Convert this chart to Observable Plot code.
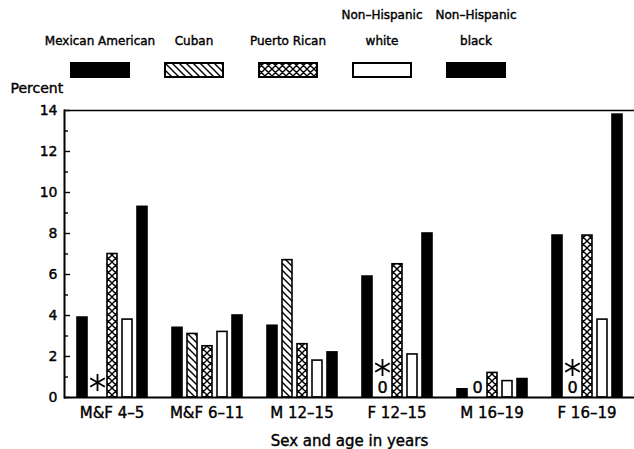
<!DOCTYPE html>
<html>
<head>
<meta charset="utf-8">
<script src="https://cdn.jsdelivr.net/npm/d3@7"></script>
<script src="https://cdn.jsdelivr.net/npm/@observablehq/plot@0.6"></script>
<style>
  body { margin: 0; background: #fff; font-family: "DejaVu Sans", sans-serif; color: #000; }
  #wrap { position: relative; width: 634px; height: 449px; overflow: hidden; }
  #legend { position: relative; width: 634px; height: 80px; }
  .lg-line { position: absolute; width: 130px; text-align: center; font-size: 12px; line-height: 16px; white-space: nowrap; -webkit-text-stroke: 0.4px black; }
  .lg-swatch { position: absolute; }
  #chart svg { display: block; }
  #chart svg text { stroke: black; stroke-width: 0.4px; }
</style>
</head>
<body>
<div id="wrap">
  <div id="legend"></div>
  <div id="chart"></div>
</div>
<script>
// ---- data ----
const groups = ["M&F 4–5", "M&F 6–11", "M 12–15", "F 12–15", "M 16–19", "F 16–19"];
const series = ["Mexican American", "Cuban", "Puerto Rican", "Non–Hispanic white", "Non–Hispanic black"];
const mexicanAmerican  = [3.9, 3.4, 3.5, 5.9, 0.4, 7.9];
const cuban            = [null, 3.1, 6.7, null, null, null];
const puertoRican      = [7.0, 2.5, 2.6, 6.5, 1.2, 7.9];
const nonHispanicWhite = [3.8, 3.2, 1.8, 2.1, 0.8, 3.8];
const nonHispanicBlack = [9.3, 4.0, 2.2, 8.0, 0.9, 13.8];
const cubanAsterisk = ["M&F 4–5", "F 12–15", "F 16–19"];   // estimate unreliable
const cubanZero     = ["F 12–15", "M 16–19", "F 16–19"];   // value zero
const legendLines = [["Mexican American"], ["Cuban"], ["Puerto Rican"], ["Non–Hispanic", "white"], ["Non–Hispanic", "black"]];
const majorTicks = [0, 2, 4, 6, 8, 10, 12, 14];
const minorTicks = [1, 3, 5, 7, 9, 11, 13];
const yLabel = "Percent";
const xLabel = "Sex and age in years";

// ---- styles ----
const fills = ["black", "url(#hatch)", "url(#cross)", "white", "black"];

const valuesBySeries = [mexicanAmerican, cuban, puertoRican, nonHispanicWhite, nonHispanicBlack];
const rows = groups.flatMap((g, i) => series.map((s, j) => ({group: g, series: s, value: valuesBySeries[j][i]})))
  .filter(d => d.value != null);

// pattern definitions (document-wide)
const defsSvg = d3.select("#legend").append("svg")
  .attr("width", 0).attr("height", 0).style("position", "absolute");
const defs = defsSvg.append("defs");
const hatch = defs.append("pattern").attr("id", "hatch").attr("patternUnits", "userSpaceOnUse")
  .attr("width", 7).attr("height", 7);
hatch.append("rect").attr("width", 7).attr("height", 7).attr("fill", "white");
hatch.append("path").attr("d", "M0,0L7,7M-1,6L1,8M6,-1L8,1").attr("stroke", "black").attr("stroke-width", 1.4);
const cross = defs.append("pattern").attr("id", "cross").attr("patternUnits", "userSpaceOnUse")
  .attr("width", 7).attr("height", 7);
cross.append("rect").attr("width", 7).attr("height", 7).attr("fill", "white");
cross.append("path").attr("d", "M0,0L7,7M7,0L0,7M-1,6L1,8M6,-1L8,1M-1,1L1,-1M6,8L8,6").attr("stroke", "black").attr("stroke-width", 1.4);

// legend
const legend = d3.select("#legend");
series.forEach((s, i) => {
  const cx = 100 + 94 * i;
  const lines = legendLines[i];
  lines.forEach((t, k) => {
    const cy = lines.length === 2 ? (k === 0 ? 15 : 41) : 41;
    legend.append("div").attr("class", "lg-line")
      .style("left", (cx - 65) + "px").style("top", (cy - 8) + "px").text(t);
  });
  const sw = legend.append("svg").attr("class", "lg-swatch")
    .attr("width", 60).attr("height", 16)
    .style("left", (cx - 30) + "px").style("top", "62px");
  sw.append("rect").attr("x", 1).attr("y", 1).attr("width", 58).attr("height", 14)
    .attr("fill", fills[i]).attr("stroke", "black").attr("stroke-width", 2);
});

const chart = Plot.plot({
  width: 634,
  height: 369,
  marginTop: 30,
  marginRight: 0,
  marginBottom: 52,
  marginLeft: 64,
  style: {fontFamily: '"DejaVu Sans", sans-serif', fontSize: "14px", color: "black", background: "white", overflow: "visible"},
  fx: {domain: groups, paddingInner: 0, paddingOuter: 0},
  x: {domain: series, paddingInner: 0.355, paddingOuter: 0.8, axis: null},
  y: {domain: [0, 14], axis: null},
  color: {domain: series, range: fills},
  marks: [
    Plot.barY(rows, {fx: "group", x: "series", y: "value", fill: "series", stroke: "black", strokeWidth: 1.6}),
    Plot.dot(cubanAsterisk.filter(g => !cubanZero.includes(g)), {fx: d => d, x: () => "Cuban", y: () => 0, dy: -15, symbol: "asterisk", r: 8, stroke: "black", strokeWidth: 1.8}),
    Plot.dot(cubanAsterisk.filter(g => cubanZero.includes(g)), {fx: d => d, x: () => "Cuban", y: () => 0, dy: -30, symbol: "asterisk", r: 8, stroke: "black", strokeWidth: 1.8}),
    Plot.text(cubanZero, {fx: d => d, x: () => "Cuban", y: () => 0, text: () => "0", dy: -10, fontSize: 16, lineAnchor: "middle"}),
    Plot.ruleY([0], {strokeWidth: 2}),
    Plot.ruleY([14], {strokeWidth: 1.6}),
    Plot.frame({anchor: "left", facetAnchor: "left", strokeWidth: 2}),
    Plot.axisY(majorTicks, {tickSize: 0, tickPadding: 7, fontSize: 14, label: null}),
    Plot.axisY(majorTicks, {tickSize: -6, fill: "none", label: null, strokeWidth: 1.4}),
    Plot.axisY(minorTicks, {tickSize: -4, fill: "none", label: null, strokeWidth: 1.4}),
    Plot.axisFx({anchor: "bottom", tickSize: 0, tickPadding: 10, fontSize: 15, label: xLabel, labelAnchor: "center", labelOffset: 48}),
    Plot.text([yLabel], {frameAnchor: "top-left", facetAnchor: "left", dx: -54, dy: -22, textAnchor: "start", lineAnchor: "middle", fontSize: 14})
  ]
});
document.getElementById("chart").appendChild(chart);
</script>
</body>
</html>
